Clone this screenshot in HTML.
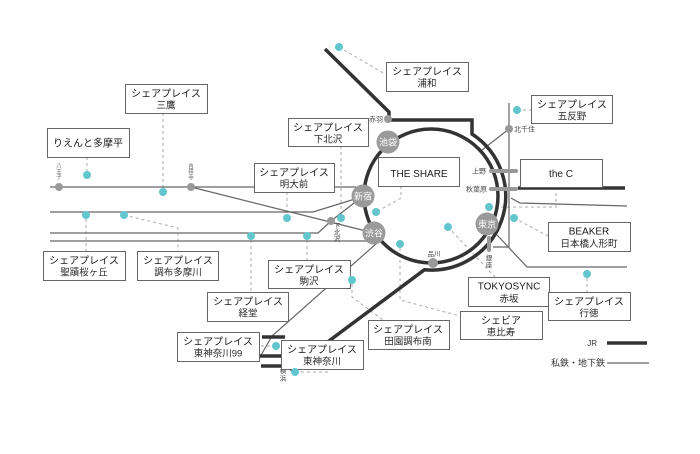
<!DOCTYPE html>
<html>
<head>
<meta charset="utf-8">
<style>
html,body{margin:0;padding:0;background:#fff;}
svg{display:block;}
.t1{font-size:10px;fill:#1a1a1a;}
.t2{font-size:9.5px;fill:#2a2a2a;}
.lat{font-size:10px;fill:#1a1a1a;}
.sm{font-size:7px;fill:#444;}
.vs{font-size:5.5px;fill:#555;}
.st{font-size:9px;fill:#fff;}
</style>
</head>
<body>
<svg width="700" height="454" viewBox="0 0 700 454" xmlns="http://www.w3.org/2000/svg" font-family="'Liberation Sans','Noto Sans CJK JP',sans-serif">
<rect width="700" height="454" fill="#fff"/>

<!-- dashed connectors -->
<g fill="none" stroke="#aaa" stroke-width="1" stroke-dasharray="3,3">
  <path d="M339,47 L385,74"/>
  <path d="M517,110 L531,110"/>
  <path d="M87,157 L87,171"/>
  <path d="M163,113 L163,188"/>
  <path d="M287,192 L287,214"/>
  <path d="M341,146 L341,214"/>
  <path d="M401,186 L401,198 L378,211"/>
  <path d="M86,219 L86,251"/>
  <path d="M124,215 L178,228 L178,251"/>
  <path d="M251,240 L251,292"/>
  <path d="M307,240 L307,260"/>
  <path d="M556,187 L556,207 L493,207"/>
  <path d="M514,218 L548,236"/>
  <path d="M448,227 L495,277"/>
  <path d="M400,248 L400,300 L460,316"/>
  <path d="M352,284 L352,297 L383,320"/>
  <path d="M587,278 L587,292"/>
  <path d="M276,346 L259,346"/>
  <path d="M295,372 L328,372"/>
</g>

<!-- thin lines (private / subway) -->
<g fill="none" stroke="#666" stroke-width="1.2">
  <path d="M50,187 L356,187"/>
  <path d="M191,187 L374,233"/>
  <path d="M50,212 L313,212 L355,199"/>
  <path d="M50,233 L318,233 L331,221 L363,196"/>
  <path d="M50,241 L367,241"/>
  <path d="M377,243 L272,336 L260,357"/>
  <path d="M482,150 L509,129"/>
  <path d="M509,103 L509,247 L493,247"/>
  <path d="M511,198 L520,203 L627,206"/>
  <path d="M497,235 L527,267 L627,267"/>
  <path d="M607,363 L649,363"/>
</g>

<!-- JR thick lines -->
<g fill="none" stroke="#333" stroke-width="3.5">
  <circle cx="431" cy="196" r="67"/>
  <path d="M325,49 L389,112 L389,120 L472,120 L472,134 A74,74 0 0 1 424.5,269.7 L290,370"/>
  <path d="M518,188 L625,188"/>
  <path d="M262,337 L285,337"/>
  <path d="M258,356 L290,356"/>
  <path d="M261,366 L290,366"/>
  <path d="M607,343 L647,343"/>
</g>

<!-- Ueno / Akihabara / Ginza bars -->
<g stroke="#999" stroke-width="4" stroke-linecap="round">
  <path d="M491,171 L516,171"/>
  <path d="M491,189 L516,189"/>
  <path d="M489,238 L489,250"/>
</g>

<!-- small gray station dots -->
<g fill="#999">
  <circle cx="388" cy="119" r="4"/>
  <circle cx="509" cy="129" r="4"/>
  <circle cx="433" cy="263" r="5"/>
  <circle cx="331" cy="221" r="4"/>
  <circle cx="59" cy="187" r="4"/>
  <circle cx="191" cy="187" r="4"/>
</g>

<!-- big station circles -->
<g fill="#9a9a9a">
  <circle cx="388" cy="142" r="11.5"/>
  <circle cx="363" cy="196" r="11.5"/>
  <circle cx="374" cy="233" r="11.5"/>
  <circle cx="487" cy="224" r="11.5"/>
</g>
<g class="st" text-anchor="middle">
  <text x="388" y="145.5" class="st">池袋</text>
  <text x="363" y="199.5" class="st">新宿</text>
  <text x="374" y="236.5" class="st">渋谷</text>
  <text x="487" y="227.5" class="st">東京</text>
</g>

<!-- small station labels -->
<text x="383" y="121.5" class="sm" text-anchor="end">赤羽</text>
<text x="514" y="131.5" class="sm">北千住</text>
<text x="486" y="173.5" class="sm" text-anchor="end">上野</text>
<text x="487" y="191.5" class="sm" text-anchor="end">秋葉原</text>
<text x="434" y="256" class="sm" text-anchor="middle" style="font-size:6.5px">品川</text>
<g class="sm" text-anchor="middle" style="font-size:6.5px">
  <text x="489" y="260">銀</text><text x="489" y="267">座</text>
  <text x="337" y="228">下</text><text x="337" y="234.5">北</text><text x="337" y="241">沢</text>
  <text x="283" y="373">横</text><text x="283" y="380.5">浜</text>
</g>
<g class="vs" text-anchor="middle">
  <text x="59" y="168">八</text><text x="59" y="173.5">王</text><text x="59" y="179">子</text>
  <text x="191" y="168">吉</text><text x="191" y="173.5">祥</text><text x="191" y="179">寺</text>
</g>

<!-- boxes -->
<g fill="#fff" stroke="#666" stroke-width="1">
  <rect x="386.5" y="62.5" width="82" height="29"/>
  <rect x="125.5" y="84.5" width="82" height="29"/>
  <rect x="531.5" y="95.5" width="81" height="28"/>
  <rect x="288.5" y="118.5" width="80" height="28"/>
  <rect x="47.5" y="128.5" width="82" height="29"/>
  <rect x="378.5" y="157.5" width="81" height="29"/>
  <rect x="254.5" y="163.5" width="80" height="29"/>
  <rect x="520.5" y="159.5" width="82" height="28"/>
  <rect x="548.5" y="222.5" width="82" height="29"/>
  <rect x="43.5" y="251.5" width="82" height="29"/>
  <rect x="137.5" y="251.5" width="81" height="29"/>
  <rect x="268.5" y="260.5" width="82" height="28"/>
  <rect x="468.5" y="277.5" width="81" height="29"/>
  <rect x="207.5" y="292.5" width="81" height="29"/>
  <rect x="548.5" y="292.5" width="82" height="28"/>
  <rect x="460.5" y="311.5" width="82" height="28"/>
  <rect x="368.5" y="320.5" width="81" height="29"/>
  <rect x="177.5" y="332.5" width="82" height="29"/>
  <rect x="281.5" y="340.5" width="82" height="29"/>
</g>

<!-- box texts -->
<g text-anchor="middle">
  <text x="427" y="75" class="t1">シェアプレイス</text><text x="427" y="86.5" class="t2">浦和</text>
  <text x="166" y="97" class="t1">シェアプレイス</text><text x="166" y="108.5" class="t2">三鷹</text>
  <text x="572" y="108" class="t1">シェアプレイス</text><text x="572" y="119.5" class="t2">五反野</text>
  <text x="328" y="131" class="t1">シェアプレイス</text><text x="328" y="142.5" class="t2">下北沢</text>
  <text x="88" y="146.5" class="t1">りえんと多摩平</text>
  <text x="419" y="177" class="lat">THE SHARE</text>
  <text x="294" y="176" class="t1">シェアプレイス</text><text x="294" y="187.5" class="t2">明大前</text>
  <text x="561" y="177" class="lat">the C</text>
  <text x="589" y="234.5" class="lat">BEAKER</text><text x="589" y="247" class="t2">日本橋人形町</text>
  <text x="84" y="264" class="t1">シェアプレイス</text><text x="84" y="275.5" class="t2">聖蹟桜ヶ丘</text>
  <text x="178" y="264" class="t1">シェアプレイス</text><text x="178" y="275.5" class="t2">調布多摩川</text>
  <text x="309" y="273" class="t1">シェアプレイス</text><text x="309" y="284.5" class="t2">駒沢</text>
  <text x="509" y="289.5" class="lat">TOKYOSYNC</text><text x="509" y="302" class="t2">赤坂</text>
  <text x="248" y="305" class="t1">シェアプレイス</text><text x="248" y="316.5" class="t2">経堂</text>
  <text x="589" y="305" class="t1">シェアプレイス</text><text x="589" y="316.5" class="t2">行徳</text>
  <text x="501" y="324" class="t1">シェビア</text><text x="501" y="335.5" class="t2">恵比寿</text>
  <text x="408" y="333" class="t1">シェアプレイス</text><text x="408" y="344.5" class="t2">田園調布南</text>
  <text x="218" y="345" class="t1">シェアプレイス</text><text x="218" y="356.5" class="t2">東神奈川99</text>
  <text x="322" y="353" class="t1">シェアプレイス</text><text x="322" y="364.5" class="t2">東神奈川</text>
</g>

<!-- cyan property dots -->
<g fill="#62c6cf">
  <circle cx="339" cy="47" r="4"/>
  <circle cx="517" cy="110" r="4"/>
  <circle cx="87" cy="175" r="4"/>
  <circle cx="163" cy="192" r="4"/>
  <circle cx="287" cy="218" r="4"/>
  <circle cx="341" cy="218" r="4"/>
  <circle cx="376" cy="212" r="4"/>
  <circle cx="86" cy="215" r="4"/>
  <circle cx="124" cy="215" r="4"/>
  <circle cx="251" cy="236" r="4"/>
  <circle cx="307" cy="236" r="4"/>
  <circle cx="489" cy="207" r="4"/>
  <circle cx="514" cy="218" r="4"/>
  <circle cx="448" cy="227" r="4"/>
  <circle cx="400" cy="244" r="4"/>
  <circle cx="352" cy="280" r="4"/>
  <circle cx="587" cy="274" r="4"/>
  <circle cx="276" cy="346" r="4"/>
  <circle cx="295" cy="372" r="4"/>
</g>

<!-- legend -->
<text x="597" y="346" text-anchor="end" style="font-size:8px;fill:#333">JR</text>
<text x="551" y="366" style="font-size:9px;fill:#333">私鉄・地下鉄</text>
</svg>
</body>
</html>
